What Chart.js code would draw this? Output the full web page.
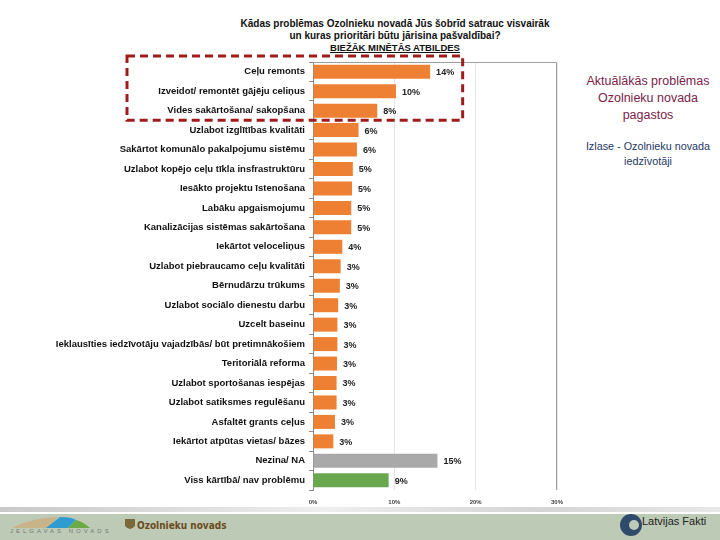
<!DOCTYPE html>
<html>
<head>
<meta charset="utf-8">
<script src="https://cdn.jsdelivr.net/npm/chart.js@4"></script>
<style>
  body { margin: 0; width: 720px; height: 540px; position: relative; overflow: hidden; background: #fff; font-family: "Liberation Sans", Arial, sans-serif; }
  #grafico { position: absolute; left: 0; top: 0; }
  .virsraksts { position: absolute; left: 225px; width: 340px; top: 18px; text-align: center; font-weight: bold; font-size: 10px; line-height: 12px; color: #111; }
  .virsraksts u { font-size: 9.5px; line-height: 10px; }
  .sanis { position: absolute; left: 574px; width: 148px; text-align: center; }
  .sanis1 { top: 73px; font-size: 12.5px; line-height: 17px; color: #7b1c48; }
  .sanis2 { top: 139px; font-size: 10.8px; line-height: 15px; color: #1f3864; }
  .kaje { position: absolute; left: 0; top: 514px; width: 720px; height: 26px; background: #bdcbb6; }
  .kajeLinija { position: absolute; left: 0; top: 507px; width: 720px; height: 5px; background: linear-gradient(to right, #c8c8c8, #eeeeee 45%, #d4d4d4 75%, #e8e8e8); }
  .jelgava { position: absolute; left: 10px; top: 528px; font-size: 6px; letter-spacing: 3px; color: #777; }
  .ozolnieki { position: absolute; left: 137px; top: 520px; font-size: 10px; font-weight: bold; color: #6b4a1e; font-family: "DejaVu Sans Condensed", sans-serif; }
  .lf { position: absolute; left: 642px; top: 515px; font-size: 11px; color: #222; }
</style>
</head>
<body>
<div class="virsraksts">Kādas problēmas Ozolnieku novadā Jūs šobrīd satrauc visvairāk<br>un kuras prioritāri būtu jārisina pašvaldībai?<br><u>BIEŽĀK MINĒTĀS ATBILDES</u></div>
<div class="sanis sanis1">Aktuālākās problēmas<br>Ozolnieku novada<br>pagastos</div>
<div class="sanis sanis2">Izlase - Ozolnieku novada<br>iedzīvotāji</div>
<div class="kajeLinija"></div>
<div class="kaje"></div>
<svg style="position:absolute;left:10px;top:514px" width="90" height="16">
  <path d="M2 14 Q20 4 48 3 L38 14 Z" fill="#c9b48a"/>
  <path d="M36 14 L50 3 Q62 3 66 6 L58 14 Z" fill="#2e9bd1"/>
  <path d="M58 14 L66 6 Q72 7 80 14 Z" fill="#6bab45"/>
</svg>
<div class="jelgava">JELGAVAS NOVADS</div>
<svg style="position:absolute;left:124px;top:518px" width="12" height="14"><path d="M1 1 H11 V8 Q6 14 1 8 Z" fill="#7a6a3a"/></svg>
<div class="ozolnieki">Ozolnieku novads</div>
<svg style="position:absolute;left:620px;top:511px" width="22" height="28"><circle cx="11" cy="14" r="11" fill="#2f4a6a"/><circle cx="14" cy="14" r="5" fill="#bdcbb6"/></svg>
<div class="lf">Latvijas Fakti</div>

<canvas id="grafico" width="720" height="540"></canvas>
<script>
const kategorijas = [
  'Ceļu remonts',
  'Izveidot/ remontēt gājēju celiņus',
  'Vides sakārtošana/ sakopšana',
  'Uzlabot izglītības kvalitāti',
  'Sakārtot komunālo pakalpojumu sistēmu',
  'Uzlabot kopējo ceļu tīkla insfrastruktūru',
  'Iesākto projektu īstenošana',
  'Labāku apgaismojumu',
  'Kanalizācijas sistēmas sakārtošana',
  'Iekārtot veloceliņus',
  'Uzlabot piebraucamo ceļu kvalitāti',
  'Bērnudārzu trūkums',
  'Uzlabot sociālo dienestu darbu',
  'Uzcelt baseinu',
  'Ieklausīties iedzīvotāju vajadzībās/ būt pretimnākošiem',
  'Teritoriālā reforma',
  'Uzlabot sportošanas iespējas',
  'Uzlabot satiksmes regulēšanu',
  'Asfaltēt grants ceļus',
  'Iekārtot atpūtas vietas/ bāzes',
  'Nezina/ NA',
  'Viss kārtībā/ nav problēmu'
];
const vertibas = [14.4, 10.2, 7.9, 5.6, 5.4, 4.9, 4.8, 4.7, 4.7, 3.6, 3.4, 3.3, 3.1, 3.0, 3.0, 2.95, 2.9, 2.9, 2.7, 2.5, 15.3, 9.3];
const etiketes = ['14%', '10%', '8%', '6%', '6%', '5%', '5%', '5%', '5%', '4%', '3%', '3%', '3%', '3%', '3%', '3%', '3%', '3%', '3%', '3%', '15%', '9%'];
const xTicks = [0, 10, 20, 30];

const krasas = kategorijas.map((k, i) => i === 20 ? '#a9a9a9' : i === 21 ? '#6aa84f' : '#ee8033');

// vērtību etiķetes blakus stabiņiem
const etikesuSpraudnis = {
  id: 'etiketes',
  afterDatasetsDraw(chart) {
    const ctx = chart.ctx;
    ctx.save();
    ctx.font = 'bold 9px "Liberation Sans", Arial, sans-serif';
    ctx.fillStyle = '#222';
    ctx.textBaseline = 'middle';
    chart.getDatasetMeta(0).data.forEach((bar, i) => {
      ctx.fillText(etiketes[i], bar.x + 6, bar.y + 1);
    });
    ctx.restore();
  }
};

// rāmis ap grafiku un sarkanais punktētais izcēlums
const ramjaSpraudnis = {
  id: 'ramis',
  afterDraw(chart) {
    const ctx = chart.ctx;
    const a = chart.chartArea;
    const y = chart.scales.y;
    const x = chart.scales.x;
    ctx.save();
    ctx.strokeStyle = '#a0a0a0';
    ctx.lineWidth = 1;
    ctx.beginPath();
    ctx.moveTo(a.left, a.top + 0.5);
    ctx.lineTo(a.right - 0.5, a.top + 0.5);
    ctx.lineTo(a.right - 0.5, a.bottom);
    ctx.stroke();

    const solis = y.getPixelForValue(1) - y.getPixelForValue(0);
    const augsa = y.getPixelForValue(0) - solis / 2 - 6;
    const apaksa = y.getPixelForValue(2) + solis / 2;
    ctx.strokeStyle = '#a01c1c';
    ctx.lineWidth = 3;
    ctx.setLineDash([8, 5]);
    ctx.strokeRect(127, augsa, x.getPixelForValue(18.4) - 127, apaksa - augsa);
    ctx.restore();
  }
};

new Chart(document.getElementById('grafico'), {
  type: 'bar',
  data: {
    labels: kategorijas,
    datasets: [{
      data: vertibas,
      backgroundColor: krasas,
      barPercentage: 0.72,
      categoryPercentage: 1
    }]
  },
  options: {
    indexAxis: 'y',
    responsive: false,
    animation: false,
    layout: { padding: { top: 62, right: 163, bottom: 36, left: 0 } },
    plugins: { legend: { display: false }, tooltip: { enabled: false } },
    scales: {
      x: {
        min: 0, max: 30,
        afterBuildTicks: s => { s.ticks = xTicks.map(v => ({ value: v })); },
        afterFit: s => { s.height = 14; },
        grid: { color: '#e4e4e4', drawTicks: false },
        border: { display: false },
        ticks: { callback: v => v + '%', font: { size: 6, weight: 'bold' }, color: '#444', padding: 9 }
      },
      y: {
        afterFit: s => { s.width = 313; },
        grid: { drawOnChartArea: false, tickLength: 4, color: '#8a8a8a' },
        border: { color: '#8a8a8a' },
        ticks: { font: { size: 9.5, weight: 'bold', family: '"Liberation Sans", Arial, sans-serif' }, color: '#111', padding: 4, autoSkip: false }
      }
    }
  },
  plugins: [etikesuSpraudnis, ramjaSpraudnis]
});
</script>
</body>
</html>
